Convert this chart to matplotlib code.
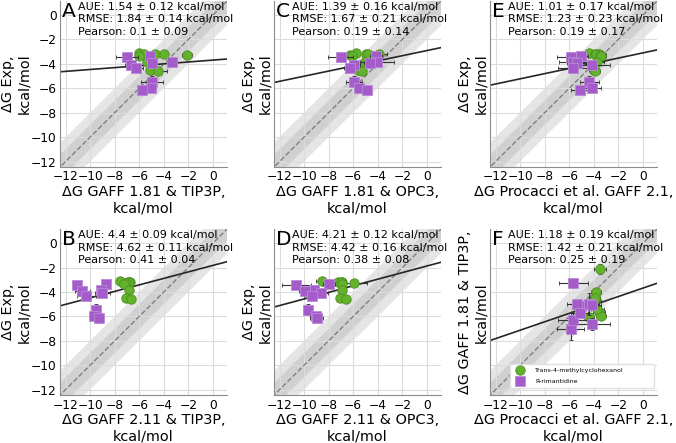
import numpy as np
import matplotlib
matplotlib.use("Agg")
import matplotlib.pyplot as plt

# experimental dG (kcal/mol)
exp_cyc = [-3.1, -3.15, -3.15, -3.2, -3.3, -3.35, -3.85, -4.5, -4.55]
exp_cyc_err = [0.1, 0.1, 0.1, 0.1, 0.1, 0.1, 0.1, 0.1, 0.1]
exp_rim = [-3.36, -3.44, -3.85, -3.9, -4.1, -4.3, -5.45, -6.0, -6.15]
exp_rim_err = [0.1, 0.1, 0.1, 0.1, 0.1, 0.1, 0.45, 0.1, 0.1]

# calculated dG, same compound order as exp
g181_tip3p_cyc = [-6.05, -5.6, -4.7, -4.0, -2.1, -6.0, -5.4, -5.1, -4.5]
g181_tip3p_cyc_err = [0.2, 0.2, 0.3, 0.3, 0.4, 0.2, 0.2, 0.3, 0.75]
g181_tip3p_rim = [-5.15, -7.0, -3.3, -4.95, -6.65, -6.3, -4.95, -5.05, -5.75]
g181_tip3p_rim_err = [0.3, 0.9, 0.4, 0.3, 0.5, 0.6, 0.9, 0.4, 0.3]

g211_tip3p_cyc = [-7.55, -6.77, -6.9, -6.85, -7.09, -7.2, -6.82, -7.09, -6.69]
g211_tip3p_cyc_err = [0.3, 0.2, 0.2, 0.2, 0.2, 0.2, 0.2, 0.2, 0.2]
g211_tip3p_rim = [-8.7, -11.03, -9.15, -10.63, -9.0, -10.3, -9.5, -9.72, -9.24]
g211_tip3p_rim_err = [0.2, 0.3, 0.3, 0.6, 0.6, 0.8, 0.2, 0.2, 0.2]

g181_opc3_cyc = [-5.78, -4.96, -3.91, -4.78, -6.22, -6.1, -5.04, -5.57, -5.25]
g181_opc3_cyc_err = [0.3, 0.3, 0.7, 0.3, 0.3, 0.3, 0.3, 0.3, 0.3]
g181_opc3_rim = [-4.17, -7.01, -4.07, -4.65, -5.91, -6.28, -5.91, -5.49, -4.91]
g181_opc3_rim_err = [0.5, 1.0, 1.4, 0.5, 0.5, 0.5, 0.65, 0.3, 0.4]

g211_opc3_cyc = [-8.55, -7.25, -6.9, -7.0, -5.9, -6.9, -6.9, -7.05, -6.6]
g211_opc3_cyc_err = [0.5, 0.3, 0.3, 0.3, 1.0, 0.3, 0.3, 0.3, 0.3]
g211_opc3_rim = [-7.98, -10.63, -9.19, -9.9, -8.66, -9.37, -9.64, -9.03, -8.98]
g211_opc3_rim_err = [0.5, 1.2, 0.7, 0.5, 0.6, 0.6, 0.3, 0.5, 0.5]

procacci_cyc = [-4.4, -3.6, -3.9, -3.8, -3.5, -3.4, -3.7, -4.0, -3.9]
procacci_cyc_err = [0.4, 0.5, 0.5, 0.4, 0.5, 0.4, 0.5, 0.4, 0.4]
procacci_rim = [-5.06, -5.89, -5.67, -5.35, -4.14, -5.73, -4.36, -4.18, -5.14]
procacci_rim_err = [0.6, 1.1, 1.2, 0.8, 1.5, 1.2, 0.8, 0.8, 0.7]

# regression lines
fit_slope = [0.077, 0.266, 0.21, 0.27, 0.2125, 0.345]
fit_icept = [-3.69, -1.82, -2.91, -1.87, -3.10, -3.68]

stats = [
    "AUE: 1.54 ± 0.12 kcal/mol\nRMSE: 1.84 ± 0.14 kcal/mol\nPearson: 0.1 ± 0.09",
    "AUE: 4.4 ± 0.09 kcal/mol\nRMSE: 4.62 ± 0.11 kcal/mol\nPearson: 0.41 ± 0.04",
    "AUE: 1.39 ± 0.16 kcal/mol\nRMSE: 1.67 ± 0.21 kcal/mol\nPearson: 0.19 ± 0.14",
    "AUE: 4.21 ± 0.12 kcal/mol\nRMSE: 4.42 ± 0.16 kcal/mol\nPearson: 0.38 ± 0.08",
    "AUE: 1.01 ± 0.17 kcal/mol\nRMSE: 1.23 ± 0.23 kcal/mol\nPearson: 0.19 ± 0.17",
    "AUE: 1.18 ± 0.19 kcal/mol\nRMSE: 1.42 ± 0.21 kcal/mol\nPearson: 0.25 ± 0.19",
]
letters = ["A", "B", "C", "D", "E", "F"]
xlabels = [
    "ΔG GAFF 1.81 & TIP3P,\nkcal/mol",
    "ΔG GAFF 2.11 & TIP3P,\nkcal/mol",
    "ΔG GAFF 1.81 & OPC3,\nkcal/mol",
    "ΔG GAFF 2.11 & OPC3,\nkcal/mol",
    "ΔG Procacci et al. GAFF 2.1,\nkcal/mol",
    "ΔG Procacci et al. GAFF 2.1,\nkcal/mol",
]
ylabels = ["ΔG Exp,\nkcal/mol"] * 5 + ["ΔG GAFF 1.81 & TIP3P,\nkcal/mol"]

# (x, xerr, y, yerr) per panel for each ligand
cyc_sets = [
    (g181_tip3p_cyc, g181_tip3p_cyc_err, exp_cyc, exp_cyc_err),
    (g211_tip3p_cyc, g211_tip3p_cyc_err, exp_cyc, exp_cyc_err),
    (g181_opc3_cyc, g181_opc3_cyc_err, exp_cyc, exp_cyc_err),
    (g211_opc3_cyc, g211_opc3_cyc_err, exp_cyc, exp_cyc_err),
    (procacci_cyc, procacci_cyc_err, exp_cyc, exp_cyc_err),
    (procacci_cyc, procacci_cyc_err, g181_tip3p_cyc, g181_tip3p_cyc_err),
]
rim_sets = [
    (g181_tip3p_rim, g181_tip3p_rim_err, exp_rim, exp_rim_err),
    (g211_tip3p_rim, g211_tip3p_rim_err, exp_rim, exp_rim_err),
    (g181_opc3_rim, g181_opc3_rim_err, exp_rim, exp_rim_err),
    (g211_opc3_rim, g211_opc3_rim_err, exp_rim, exp_rim_err),
    (procacci_rim, procacci_rim_err, exp_rim, exp_rim_err),
    (procacci_rim, procacci_rim_err, g181_tip3p_rim, g181_tip3p_rim_err),
]

green = "#62b22c"
purple = "#a35cc9"
lims = (-12.45, 1.15)

fig = plt.figure(figsize=(6.76, 4.43), dpi=100)
lefts = [0.0888, 0.0888, 0.4053, 0.4053, 0.7249, 0.7249]
bottoms = [0.623, 0.108, 0.623, 0.108, 0.623, 0.108]

for i in range(6):
    ax = fig.add_axes([lefts[i], bottoms[i], 0.247, 0.3747])
    ax.set_xlim(lims)
    ax.set_ylim(lims)
    line = np.array([-20, 20])
    ax.fill_between(line, line - 2, line + 2, color="grey", alpha=0.2, lw=0, zorder=0)
    ax.fill_between(line, line - 1, line + 1, color="grey", alpha=0.2, lw=0, zorder=0)
    ax.plot(line, line, ls="--", color="grey", lw=1, zorder=1)
    ax.plot(line, fit_slope[i] * line + fit_icept[i], color="0.15", lw=1.2, zorder=2)

    x, xe, y, ye = cyc_sets[i]
    ax.errorbar(x, y, xerr=xe, yerr=ye, fmt="o", color=green, ms=6.8,
                mec="#4d8f22", mew=0.6, ecolor="0.2", elinewidth=0.8,
                capsize=1.5, zorder=3, label="Trans-4-methylcyclohexanol")
    x, xe, y, ye = rim_sets[i]
    ax.errorbar(x, y, xerr=xe, yerr=ye, fmt="s", color=purple, ms=7,
                mec="#b98ad6", mew=0.6, ecolor="0.2", elinewidth=0.8,
                capsize=1.5, zorder=4, label="R-rimantidine")

    ax.set_xticks([-12, -10, -8, -6, -4, -2, 0])
    ax.set_yticks([-12, -10, -8, -6, -4, -2, 0])
    ax.grid(True, color="#dcdcdc", lw=0.8, zorder=0)
    ax.set_axisbelow(True)
    ax.tick_params(length=0, labelsize=8.8, pad=2.5)
    if i > 1:
        ax.tick_params(labelleft=False)
    for s in ["top", "right"]:
        ax.spines[s].set_visible(False)
    for s in ["left", "bottom"]:
        ax.spines[s].set_color("0.55")
        ax.spines[s].set_linewidth(0.8)

    ax.set_xlabel(xlabels[i], fontsize=10.4, labelpad=1, linespacing=1.2)
    ax.set_ylabel(ylabels[i], fontsize=10.4, labelpad=0 if i < 2 else 1.5,
                  linespacing=1.2)
    ax.text(0.012, 0.995, letters[i], transform=ax.transAxes, fontsize=14.5,
            va="top", ha="left")
    ax.text(0.105, 0.995, stats[i], transform=ax.transAxes, fontsize=8,
            va="top", ha="left", linespacing=1.33)

    if i == 5:
        ax.legend(loc="lower left", bbox_to_anchor=(0.1, 0.024, 0.9, 0.15),
                  mode="expand", fontsize=4.5, framealpha=1, edgecolor="#e0e0e0",
                  labelspacing=0.9, borderpad=0.6, handletextpad=1.5)

fig.savefig("out.png", dpi=100)
